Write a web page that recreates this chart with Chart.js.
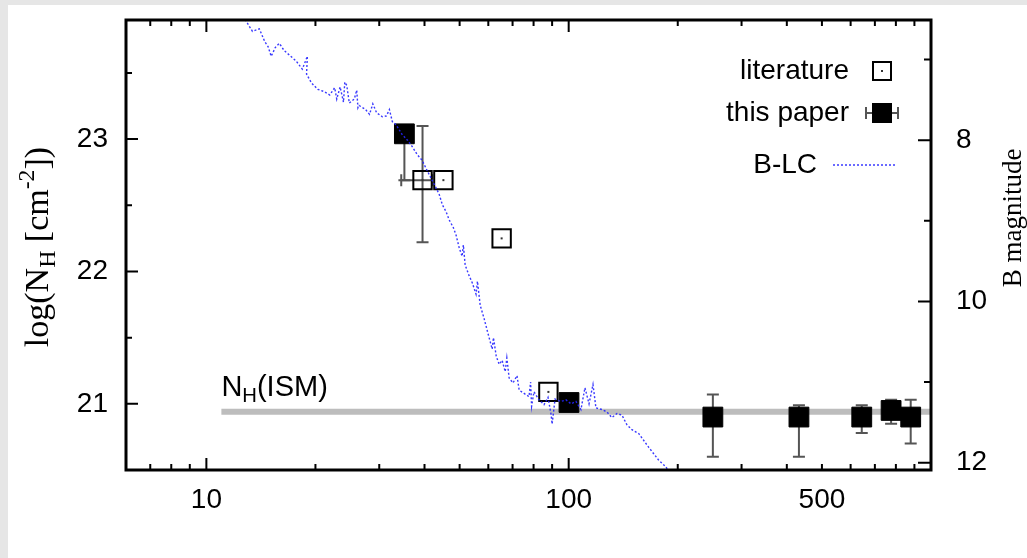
<!DOCTYPE html>
<html>
<head>
<meta charset="utf-8">
<script src="https://cdn.jsdelivr.net/npm/chart.js@4.4.1/dist/chart.umd.min.js"></script>
<style>
  html, body { margin: 0; padding: 0; background: #e6e6e6; }
  #panel { position: absolute; left: 8px; top: 5px; width: 1019px; height: 553px; background: #fff; }
  canvas { display: block; }
</style>
</head>
<body>
<div id="panel"><canvas id="nhChart" width="1019" height="553"></canvas></div>
<script>
// Axis ticks
const xTickLabels = [10, 100, 500];
const xMajorTicks = [10, 100];
const xMinorTicks = [7, 8, 9, 20, 30, 40, 50, 60, 70, 80, 90, 200, 300, 400, 500, 600, 700, 800, 900];
const nhTicks = [21, 22, 23];
const nhMinorTicks = [21.5, 22.5, 23.5];
const bTicks = [8, 10, 12];
const bMinorTicks = [7, 9, 11];

// Column densities from the literature (days, log N_H)
const litDays = [39.5, 45.1, 65.3, 87.9];
const litNH = [22.69, 22.69, 22.25, 21.09];
const litNHLow = [22.22, null, null, null];
const litNHHigh = [23.10, null, null, null];
const litDaysLow = [34.5, null, null, null];
const litDaysHigh = [42.0, null, null, null];

// Column densities from this work
const paperDays = [35.2, 100.2, 250, 432, 644, 776, 879];
const paperNH = [23.04, 21.01, 20.90, 20.90, 20.90, 20.95, 20.90];
const paperNHLow = [22.69, null, 20.60, 20.60, 20.78, 20.85, 20.70];
const paperNHHigh = [23.04, null, 21.07, 20.99, 20.99, 21.03, 21.03];

// Interstellar column
const ismDays = [11, 1000];
const ismNH = [20.94, 20.94];

// B band light curve (days, B mag)
const lcDays = [11.9, 12.2, 12.9, 13.4, 14.0, 14.5, 14.8, 15.1, 15.5, 15.9, 16.4,
  17.0, 17.7, 18.4, 19.0, 18.9, 19.5, 20.3, 21.2, 21.9, 22.6,
  22.9, 23.4, 23.9, 24.1, 24.4, 24.8, 25.6, 26.0, 26.2, 26.4, 27.5, 28.2, 28.8, 29.5,
  30.6, 31.4, 32.0, 32.6, 33.4, 34.7, 35.9, 37.0, 38.2, 39.4, 40.5,
  41.8, 42.8, 43.9, 44.8, 45.9, 46.8, 48.0, 48.9, 49.9, 50.8, 51.2,
  51.8, 53.1, 54.2, 55.5, 56.0, 57.0, 58.4, 59.9, 61.5, 62.0, 63.1, 64.3,
  65.5, 66.8, 67.5, 68.5, 70.2, 72.0, 73.0, 75.3, 77.7, 78.5, 79.0, 80.2, 82.8,
  85.5, 87.7, 89.4, 90.0, 91.7, 95.2, 98.3, 101.5, 104.7, 108.1, 110.9,
  113.8, 116.7, 118.9, 123.5, 127.5, 131.6, 135.9, 140.3, 144.8, 149.5,
  156.2, 166.4, 177.3, 185.4, 191.4];
const lcBmag = [6.30, 6.37, 6.53, 6.65, 6.62, 6.78, 6.84, 6.96, 6.85, 6.80, 6.89,
  6.95, 7.02, 7.12, 6.96, 7.18, 7.29, 7.37, 7.40, 7.44, 7.35,
  7.49, 7.34, 7.53, 7.28, 7.32, 7.54, 7.49, 7.38, 7.60, 7.57, 7.62, 7.68, 7.55, 7.66,
  7.71, 7.70, 7.62, 7.77, 7.81, 7.93, 8.00, 8.08, 8.18, 8.25, 8.36,
  8.48, 8.57, 8.67, 8.80, 8.89, 8.99, 9.08, 9.18, 9.34, 9.44, 9.30,
  9.55, 9.68, 9.77, 9.91, 9.75, 10.05, 10.21, 10.40, 10.59, 10.45, 10.68, 10.78,
  10.73, 10.87, 10.70, 10.95, 11.01, 10.92, 11.10, 11.14, 11.18, 11.00, 11.30, 11.12, 11.22,
  11.28, 11.19, 11.40, 11.52, 11.21, 11.24, 11.22, 11.27, 11.24, 11.34, 11.07,
  11.27, 11.03, 11.32, 11.34, 11.37, 11.44, 11.39, 11.41, 11.53, 11.59,
  11.64, 11.81, 11.97, 12.05, 12.15];

const SANS = '"Liberation Sans", Arial, sans-serif';
const SERIF = '"Liberation Serif", "Times New Roman", serif';
const FONT_PX = 28;
const LC_COLOR = 'rgba(35, 35, 255, 0.9)';
const ERR_COLOR = '#555';

const toXY = (xs, ys) => xs.map((x, i) => ({ x: x, y: ys[i] }));

// fixed axis sizes so the frame lands at the same place every time
function fixSize(prop, size) {
  return (s) => {
    s[prop] = size;
    s.paddingTop = 0; s.paddingBottom = 0; s.paddingLeft = 0; s.paddingRight = 0;
  };
}

function drawErrorBars(chart, ds, meta) {
  const ctx = chart.ctx, xs = chart.scales.x, ys = chart.scales.y;
  const cap = 6;
  ctx.save();
  ctx.strokeStyle = ERR_COLOR;
  ctx.lineWidth = 2;
  meta.data.forEach((pt, i) => {
    ctx.beginPath();
    if (ds.yLow && ds.yLow[i] != null) {
      const y0 = ys.getPixelForValue(ds.yLow[i]);
      const y1 = ys.getPixelForValue(ds.yHigh[i]);
      ctx.moveTo(pt.x, y0); ctx.lineTo(pt.x, y1);
      ctx.moveTo(pt.x - cap, y0); ctx.lineTo(pt.x + cap, y0);
      ctx.moveTo(pt.x - cap, y1); ctx.lineTo(pt.x + cap, y1);
    }
    if (ds.xLow && ds.xLow[i] != null) {
      const x0 = xs.getPixelForValue(ds.xLow[i]);
      const x1 = xs.getPixelForValue(ds.xHigh[i]);
      ctx.moveTo(x0, pt.y); ctx.lineTo(x1, pt.y);
      ctx.moveTo(x0, pt.y - cap); ctx.lineTo(x0, pt.y + cap);
      ctx.moveTo(x1, pt.y - cap); ctx.lineTo(x1, pt.y + cap);
    }
    ctx.stroke();
  });
  ctx.restore();
}

// text made of pieces: [text, scale, baseline shift in em]
function drawRich(ctx, pieces, family, size, x, y, angle, align) {
  ctx.save();
  ctx.translate(x, y);
  ctx.rotate(angle);
  ctx.textBaseline = 'alphabetic';
  ctx.textAlign = 'left';
  let total = 0;
  pieces.forEach(p => { ctx.font = (size * p[1]) + 'px ' + family; total += ctx.measureText(p[0]).width; });
  let cx = align === 'center' ? -total / 2 : (align === 'right' ? -total : 0);
  pieces.forEach(p => {
    ctx.font = (size * p[1]) + 'px ' + family;
    ctx.fillText(p[0], cx, p[2] * size);
    cx += ctx.measureText(p[0]).width;
  });
  ctx.restore();
}

const framePlugin = {
  id: 'frame',
  beforeDatasetDraw(chart, args) {
    const ds = chart.data.datasets[args.index];
    if (ds.yLow || ds.xLow) drawErrorBars(chart, ds, args.meta);
  },
  afterDatasetDraw(chart, args) {
    const ds = chart.data.datasets[args.index];
    if (ds.label !== 'literature') return;
    const ctx = chart.ctx;
    ctx.save();
    ctx.fillStyle = '#333';
    args.meta.data.forEach(pt => ctx.fillRect(pt.x - 1, pt.y - 1, 2, 2));
    ctx.restore();
  },
  afterDraw(chart) {
    const ctx = chart.ctx, ca = chart.chartArea;
    const xs = chart.scales.x, ys = chart.scales.y, bs = chart.scales.y2;
    ctx.save();
    ctx.strokeStyle = '#000';
    ctx.lineWidth = 2;
    ctx.beginPath();
    const tickX = (v, len) => {
      const px = xs.getPixelForValue(v);
      ctx.moveTo(px, ca.bottom); ctx.lineTo(px, ca.bottom - len);
      ctx.moveTo(px, ca.top); ctx.lineTo(px, ca.top + len);
    };
    xMajorTicks.forEach(v => tickX(v, 12));
    xMinorTicks.forEach(v => tickX(v, 6));
    nhTicks.forEach(v => { const py = ys.getPixelForValue(v); ctx.moveTo(ca.left, py); ctx.lineTo(ca.left + 12, py); });
    nhMinorTicks.forEach(v => { const py = ys.getPixelForValue(v); ctx.moveTo(ca.left, py); ctx.lineTo(ca.left + 6, py); });
    bTicks.forEach(v => { const py = bs.getPixelForValue(v); ctx.moveTo(ca.right, py); ctx.lineTo(ca.right - 13, py); });
    bMinorTicks.forEach(v => { const py = bs.getPixelForValue(v); ctx.moveTo(ca.right, py); ctx.lineTo(ca.right - 7, py); });
    ctx.stroke();
    ctx.lineWidth = 3;
    ctx.strokeRect(ca.left, ca.top, ca.right - ca.left, ca.bottom - ca.top);

    // axis titles
    ctx.fillStyle = '#000';
    drawRich(ctx, [['log(N', 1, 0], ['H', 0.7, 0.22], [' [cm', 1, 0], ['-2', 0.7, -0.42], ['])', 1, 0]],
      SERIF, 34, 40, (ca.top + ca.bottom) / 2 + 2, -Math.PI / 2, 'center');
    drawRich(ctx, [['B magnitude', 1, 0]], SERIF, 27, 1013, 213, -Math.PI / 2, 'center');

    // interstellar label
    const ismY = ys.getPixelForValue(ismNH[0]);
    drawRich(ctx, [['N', 1, 0], ['H', 0.7, 0.22], ['(ISM)', 1, 0]], SANS, 29,
      xs.getPixelForValue(ismDays[0]), ismY - 16, 0, 'left');

    // key
    const textR = ca.right - 82, symX = ca.right - 49;
    const rows = [ca.top + 51, ca.top + 93, ca.top + 145];
    ctx.font = FONT_PX + 'px ' + SANS;
    ctx.textAlign = 'right';
    ctx.textBaseline = 'middle';
    ctx.fillText('literature', textR, rows[0]);
    ctx.fillText('this paper', textR, rows[1]);
    ctx.fillText('B-LC', ca.right - 114, rows[2]);
    ctx.lineWidth = 2;
    ctx.strokeStyle = '#000';
    ctx.fillStyle = '#fff';
    ctx.fillRect(symX - 9, rows[0] - 9, 18, 18);
    ctx.strokeRect(symX - 9, rows[0] - 9, 18, 18);
    ctx.fillStyle = '#333';
    ctx.fillRect(symX - 1, rows[0] - 1, 2, 2);
    ctx.strokeStyle = ERR_COLOR;
    ctx.beginPath();
    ctx.moveTo(symX - 16, rows[1]); ctx.lineTo(symX + 16, rows[1]);
    ctx.moveTo(symX - 16, rows[1] - 6); ctx.lineTo(symX - 16, rows[1] + 6);
    ctx.moveTo(symX + 16, rows[1] - 6); ctx.lineTo(symX + 16, rows[1] + 6);
    ctx.stroke();
    ctx.fillStyle = '#000';
    ctx.fillRect(symX - 10, rows[1] - 10, 20, 20);
    ctx.strokeStyle = LC_COLOR;
    ctx.lineWidth = 1.4;
    ctx.setLineDash([2, 2]);
    ctx.beginPath();
    ctx.moveTo(ca.right - 98, rows[2]); ctx.lineTo(ca.right - 34, rows[2]);
    ctx.stroke();
    ctx.restore();
  }
};

const ctx = document.getElementById('nhChart').getContext('2d');
const nhChart = new Chart(ctx, {
  type: 'scatter',
  data: {
    datasets: [
      {
        label: 'ISM',
        data: toXY(ismDays, ismNH),
        showLine: true,
        borderColor: '#bdbdbd',
        borderWidth: 6,
        pointRadius: 0,
        yAxisID: 'y',
        order: 4
      },
      {
        label: 'literature',
        data: toXY(litDays, litNH),
        yLow: litNHLow, yHigh: litNHHigh, xLow: litDaysLow, xHigh: litDaysHigh,
        pointStyle: 'rect',
        pointRadius: 13,
        backgroundColor: 'rgba(255,255,255,0)',
        borderColor: '#000',
        borderWidth: 2,
        yAxisID: 'y',
        order: 3
      },
      {
        label: 'this paper',
        data: toXY(paperDays, paperNH),
        yLow: paperNHLow, yHigh: paperNHHigh,
        pointStyle: 'rect',
        pointRadius: 14,
        backgroundColor: '#000',
        borderColor: '#000',
        borderWidth: 1,
        yAxisID: 'y',
        order: 2
      },
      {
        label: 'B-LC',
        data: toXY(lcDays, lcBmag),
        showLine: true,
        borderColor: LC_COLOR,
        borderWidth: 1.4,
        borderDash: [2, 2],
        pointRadius: 0,
        yAxisID: 'y2',
        order: 1
      }
    ]
  },
  options: {
    responsive: false,
    animation: false,
    events: [],
    layout: { padding: { top: 12, left: 0, right: 0, bottom: 0 } },
    plugins: { legend: { display: false }, tooltip: { enabled: false } },
    scales: {
      x: {
        type: 'logarithmic',
        position: 'bottom',
        min: 6,
        max: 1000,
        grid: { display: false, drawTicks: false },
        border: { display: false },
        afterBuildTicks: s => { s.ticks = xTickLabels.map(v => ({ value: v })); },
        afterFit: fixSize('height', 88),
        ticks: { color: '#000', padding: 13, maxRotation: 0, font: { family: SANS, size: FONT_PX }, callback: v => String(v) }
      },
      y: {
        type: 'linear',
        position: 'left',
        min: 20.5,
        max: 23.9,
        grid: { display: false, drawTicks: false },
        border: { display: false },
        afterBuildTicks: s => { s.ticks = nhTicks.map(v => ({ value: v })); },
        afterFit: fixSize('width', 118),
        ticks: { color: '#000', padding: 18, font: { family: SANS, size: FONT_PX }, callback: v => String(v) }
      },
      y2: {
        type: 'linear',
        position: 'right',
        min: 6.51,
        max: 12.09,
        reverse: true,
        grid: { display: false, drawTicks: false },
        border: { display: false },
        afterBuildTicks: s => { s.ticks = bTicks.map(v => ({ value: v })); },
        afterFit: fixSize('width', 96),
        ticks: { color: '#000', padding: 25, font: { family: SANS, size: FONT_PX }, callback: v => String(v) }
      }
    }
  },
  plugins: [framePlugin]
});
</script>
</body>
</html>
